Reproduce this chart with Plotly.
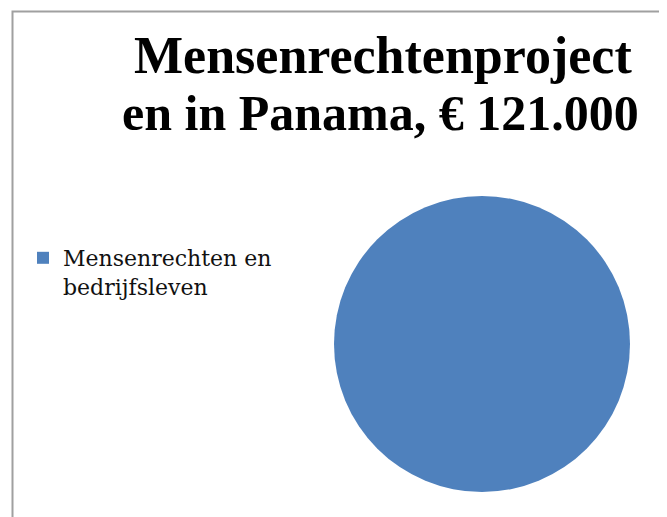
import plotly.graph_objects as go

labels = ["Mensenrechten en<br>bedrijfsleven"]
values = [121000]
colors = ["#4f81bd"]
title_lines = ["Mensenrechtenproject", "en in Panama, € 121.000"]

W, H = 667, 517
OFF = 8  # page body margin offset


def px(x):
    return (x - OFF) / W


def py(y):
    return 1 - (y - OFF) / H


fig = go.Figure()
fig.add_trace(go.Pie(
    labels=labels, values=values, sort=False,
    marker=dict(colors=colors, line=dict(width=0)),
    textinfo="none", hoverinfo="label+value",
    domain=dict(x=[px(334), px(630)], y=[py(492), py(196)]),
    showlegend=True,
))

annotations = []
for line, (cx, cy, fs) in zip(title_lines, [(382.5, 56, 52), (380.5, 113, 50)]):
    annotations.append(dict(
        text="<b>" + line + "</b>", x=px(cx), y=py(cy),
        xref="paper", yref="paper", xanchor="center", yanchor="middle",
        showarrow=False, align="center",
        font=dict(family="Liberation Serif", size=fs, color="black"),
    ))

fig.update_layout(
    width=W, height=H,
    margin=dict(l=0, r=0, t=0, b=0),
    paper_bgcolor="white", plot_bgcolor="white",
    showlegend=True,
    legend=dict(x=px(23), y=py(237), xanchor="left", yanchor="top",
                valign="top",
                font=dict(family="DejaVu Serif", size=22, color="#111"),
                bgcolor="rgba(0,0,0,0)"),
    annotations=annotations,
    shapes=[dict(type="rect", xref="paper", yref="paper",
                 x0=px(12.5), x1=1.2, y0=-0.2, y1=py(11.5),
                 line=dict(color="#a0a0a0", width=2), fillcolor="rgba(0,0,0,0)")],
)

fig.write_html("out.html")
